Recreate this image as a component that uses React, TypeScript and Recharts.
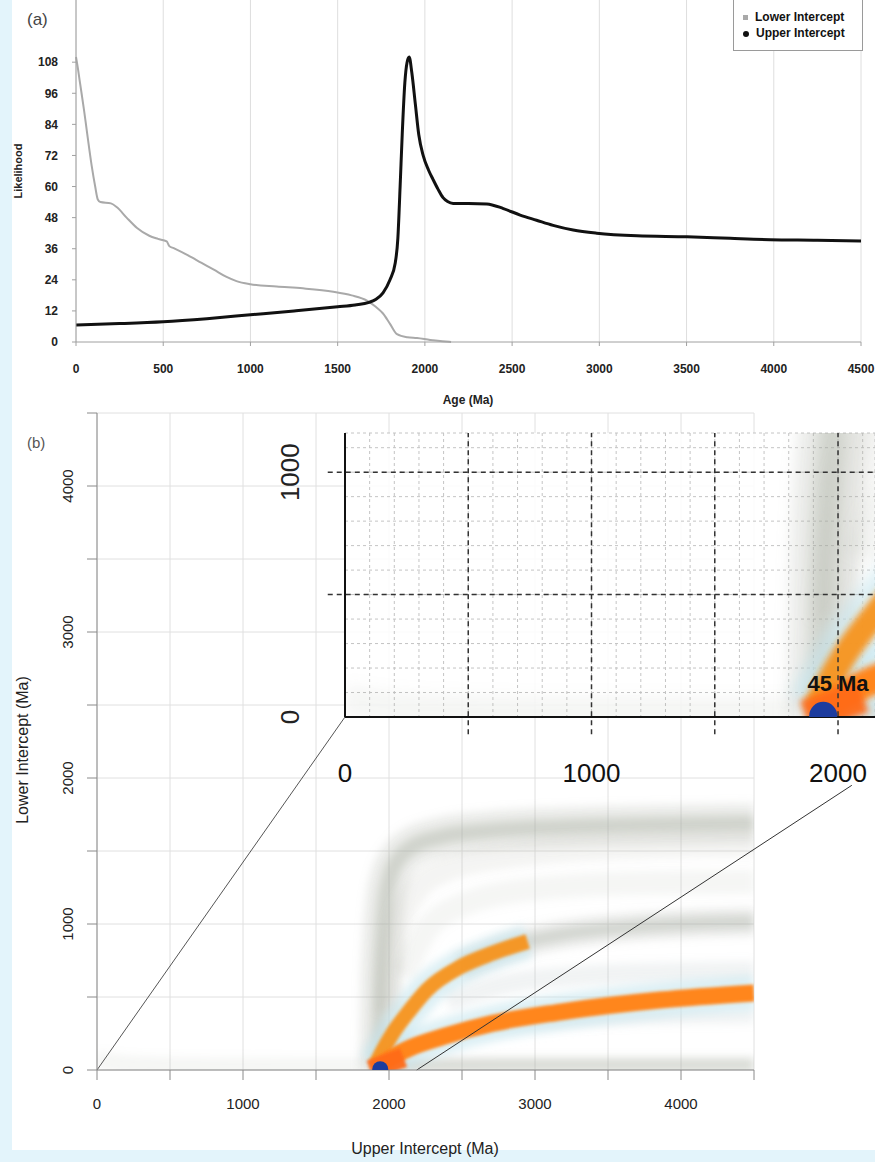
import {
  ComposedChart,
  LineChart,
  Line,
  Scatter,
  XAxis,
  YAxis,
  CartesianGrid,
  ReferenceLine,
  ReferenceDot,
  Legend,
} from 'recharts';

const FONT = '"Liberation Sans", Arial, Helvetica, sans-serif';

// ---------- (a) likelihood vs age ----------
const ageTicks = [0, 500, 1000, 1500, 2000, 2500, 3000, 3500, 4000, 4500];
const likelihoodTicks = [0, 12, 24, 36, 48, 60, 72, 84, 96, 108];

const lowerAges = [
  0, 10, 23, 45, 63, 90, 110, 125, 140, 200, 235, 290, 350, 420, 470, 520, 535, 560, 640, 720,
  790, 860, 920, 1000, 1150, 1300, 1475, 1580, 1668, 1720, 1760, 1800, 1840, 1900, 1955, 2030, 2100, 2150,
];
const lowerLikelihood = [
  110, 106, 100, 90, 81, 68, 60, 55, 54, 53.5, 52, 48, 44, 41, 39.8, 38.8, 37, 36.2, 33.5, 30.5,
  27.9, 25.2, 23.5, 22.3, 21.4, 20.7, 19.4, 18, 16, 13.5, 11, 7, 3, 1.8, 1.5, 0.8, 0.3, 0,
];

const upperAges = [
  0, 250, 500, 750, 1000, 1250, 1500, 1600, 1680, 1720, 1760, 1800, 1830, 1845, 1858, 1870, 1885, 1898, 1910, 1925,
  1945, 1965, 1990, 2020, 2047, 2075, 2104, 2130, 2162, 2250, 2355, 2450, 2546, 2640, 2735, 2850, 2985, 3216, 3503, 3750,
  3979, 4250, 4500,
];
const upperLikelihood = [
  6.6, 7.1, 7.8, 9, 10.5, 12, 13.6, 14.3, 15.3, 16.5, 19, 24, 30.5, 40, 60, 80, 100, 108, 110, 104,
  92, 80, 72, 66.5, 62.7, 59, 55.7, 54.2, 53.5, 53.5, 53.3, 51.5, 49, 47, 45, 43.2, 42, 41, 40.6, 40,
  39.5, 39.3, 39,
];

const legendItems = [
  { name: 'Lower Intercept', color: '#a9a9a9', round: false },
  { name: 'Upper Intercept', color: '#111111', round: true },
];

// ---------- (b) lower intercept vs upper intercept density ridges ----------
const interceptTicks = [0, 500, 1000, 1500, 2000, 2500, 3000, 3500, 4000, 4500];
const insetXTicks = [0, 100, 200, 300, 400, 500, 600, 700, 800, 900, 1000, 1100, 1200, 1300, 1400, 1500, 1600, 1700, 1800, 1900, 2000, 2100];
const insetYTicks = [0, 100, 200, 300, 400, 500, 600, 700, 800, 900, 1000, 1100];
const insetMajor = [500, 1000, 1500, 2000];
const insetMajorY = [500, 1000];

const floorBand = [[0, 70], [150, 45], [400, 30], [900, 22], [1500, 20], [1850, 20]];
const baseBand = [[1880, 25], [2300, 32], [3000, 35], [4500, 35]];
const topBand = [
  [1930, 0], [1935, 250], [1942, 600], [1955, 900], [1975, 1150], [2010, 1330], [2070, 1450],
  [2160, 1530], [2350, 1595], [2700, 1640], [3200, 1665], [3800, 1680], [4500, 1690],
];
const upperFaintBand = [[1980, 400], [2040, 900], [2160, 1200], [2400, 1380], [2900, 1480], [3600, 1530], [4500, 1550]];
const midFaintBand = [[2100, 650], [2250, 950], [2500, 1130], [3000, 1240], [3700, 1280], [4500, 1290]];
const midBand = [[2486, 705], [2712, 801], [2950, 880], [3200, 930], [3600, 975], [4000, 1000], [4500, 1015]];
const lowUpperBand = [[2400, 470], [2800, 590], [3300, 645], [3900, 668], [4500, 676]];
const lowLowerBand = [[2600, 290], [3100, 330], [3700, 355], [4500, 368]];
const upperOrange = [[1910, 40], [1950, 120], [2027, 253], [2144, 411], [2260, 548], [2486, 705], [2712, 801], [2950, 880]];
const lowerOrange = [[1930, 30], [1986, 68], [2144, 151], [2370, 228], [2712, 320], [3171, 397], [3856, 479], [4500, 528]];
const rootOrange = [[1870, 0], [1940, 25], [2020, 55], [2100, 85]];

const bestFit = [{ upper: 1940, lower: 5 }];
const bestFitLabel = '45 Ma';

// zoom connectors in main-plot coordinates
const connectorA = [{ x: 0, y: 0 }, { x: 1700, y: 2420 }];
const connectorB = [{ x: 2190, y: 0 }, { x: 5170, y: 1950 }];

type Layer = { band: number[][]; color: string; width: number; opacity: number; soft: 'grey' | 'orange' };
const bandLayers: Layer[] = [
  { band: floorBand, color: '#9ea397', width: 18, opacity: 0.1, soft: 'grey' },
  { band: baseBand, color: '#a3a79c', width: 14, opacity: 0.4, soft: 'grey' },
  { band: topBand, color: '#a7ab9f', width: 40, opacity: 0.22, soft: 'grey' },
  { band: topBand, color: '#9fa396', width: 16, opacity: 0.35, soft: 'grey' },
  { band: upperFaintBand, color: '#aeb2a8', width: 26, opacity: 0.14, soft: 'grey' },
  { band: midFaintBand, color: '#aeb2a8', width: 24, opacity: 0.12, soft: 'grey' },
  { band: midBand, color: '#a5a99e', width: 28, opacity: 0.22, soft: 'grey' },
  { band: midBand, color: '#a0a498', width: 12, opacity: 0.32, soft: 'grey' },
  { band: lowUpperBand, color: '#a7b3b8', width: 20, opacity: 0.16, soft: 'grey' },
  { band: lowLowerBand, color: '#a7b3b8', width: 14, opacity: 0.16, soft: 'grey' },
  { band: upperOrange, color: '#c6e6ee', width: 34, opacity: 0.6, soft: 'grey' },
  { band: lowerOrange, color: '#c6e6ee', width: 36, opacity: 0.6, soft: 'grey' },
  { band: upperOrange, color: '#f7941f', width: 15, opacity: 0.95, soft: 'orange' },
  { band: lowerOrange, color: '#ff861a', width: 17, opacity: 1, soft: 'orange' },
  { band: rootOrange, color: '#ff6a14', width: 20, opacity: 0.95, soft: 'orange' },
];

const toPoints = (pairs: number[][]) => pairs.map(([upper, lower]) => ({ upper, lower }));

function bandLines(k: number, prefix: string) {
  return bandLayers.map((l, i) => (
    <Line
      key={`${prefix}-${i}`}
      data={toPoints(l.band)}
      dataKey="lower"
      type="monotone"
      stroke={l.color}
      strokeWidth={l.width * k}
      strokeOpacity={l.opacity}
      filter={`url(#${prefix}-${l.soft})`}
      dot={false}
      activeDot={false}
      legendType="none"
      isAnimationActive={false}
    />
  ));
}

const blurFilters = [
  { id: 'main-grey', std: 4 },
  { id: 'main-orange', std: 1.8 },
  { id: 'inset-grey', std: 7 },
  { id: 'inset-orange', std: 3 },
];

const rotatedTick = (fontSize: number, show: (v: number) => boolean) => (props: any) => {
  const { x, y, payload } = props;
  if (!show(payload.value)) return <g />;
  return (
    <text x={x} y={y} transform={`rotate(-90 ${x} ${y})`} textAnchor="middle" fontSize={fontSize} fill="#222" fontFamily={FONT}>
      {payload.value}
    </text>
  );
};

const title = (text: string, x: number, y: number, size: number, weight: string | number, angle = 0) => () => (
  <text
    x={x}
    y={y}
    transform={angle ? `rotate(${angle} ${x} ${y})` : undefined}
    textAnchor="middle"
    dominantBaseline="central"
    fontSize={size}
    fontWeight={weight}
    fill="#222"
    fontFamily={FONT}
  >
    {text}
  </text>
);

const InterceptLegend = () => (
  <div
    style={{
      border: '1px solid #9a9a9a',
      background: '#fff',
      padding: '9px 6px 9px 9px',
      fontSize: 12,
      fontWeight: 'bold',
      fontFamily: FONT,
      color: '#111',
      lineHeight: '16px',
      whiteSpace: 'nowrap',
    }}
  >
    {legendItems.map((it) => (
      <div key={it.name}>
        <span
          style={{
            display: 'inline-block',
            width: it.round ? 6 : 5,
            height: it.round ? 6 : 5,
            background: it.color,
            borderRadius: it.round ? '50%' : 0,
            marginRight: 7,
            verticalAlign: 'middle',
          }}
        />
        {it.name}
      </div>
    ))}
  </div>
);

export default function App() {
  const lowerData = lowerAges.map((age, i) => ({ age, value: lowerLikelihood[i] }));
  const upperData = upperAges.map((age, i) => ({ age, value: upperLikelihood[i] }));
  const tickA = { fontSize: 12, fontWeight: 'bold', fill: '#222', fontFamily: FONT };
  const tickB = { fontSize: 15, fill: '#222', fontFamily: FONT };
  const tickInset = { fontSize: 26, fill: '#111', fontFamily: FONT };

  return (
    <div
      style={{
        position: 'absolute',
        left: 0,
        top: 0,
        width: 875,
        height: 1162,
        background: '#e3f4fb',
        overflow: 'hidden',
        fontFamily: FONT,
      }}
    >
      <svg width={0} height={0} style={{ position: 'absolute' }}>
        <defs>
          {blurFilters.map((f) => (
            <filter key={f.id} id={f.id} filterUnits="userSpaceOnUse" x={-200} y={-200} width={1400} height={1400}>
              <feGaussianBlur stdDeviation={f.std} />
            </filter>
          ))}
        </defs>
      </svg>
      <div style={{ position: 'absolute', left: 12, top: 0, width: 863, height: 1150, background: '#fff' }} />

      {/* (a) */}
      <div style={{ position: 'absolute', left: 0, top: 0 }}>
        <LineChart width={875} height={420} margin={{ top: 0, right: 14, bottom: 12, left: 8 }}>
          <CartesianGrid horizontal={false} stroke="#dedede" />
          <XAxis
            type="number"
            dataKey="age"
            domain={[0, 4500]}
            ticks={ageTicks}
            interval={0}
            height={66}
            tickSize={4}
            tickMargin={18}
            stroke="#a0a0a0"
            tick={tickA}
            label={{ content: title('Age (Ma)', 468, 400, 12, 'bold') }}
          />
          <YAxis
            type="number"
            domain={[0, 132]}
            ticks={likelihoodTicks}
            interval={0}
            width={68}
            tickSize={4}
            tickMargin={14}
            stroke="#a0a0a0"
            tick={tickA}
            label={{ content: title('Likelihood', 18, 171, 11, 'bold', -90) }}
          />
          <Legend
            layout="horizontal"
            verticalAlign="middle"
            align="center"
            wrapperStyle={{ top: -1, left: 733, width: 130 }}
            content={() => <InterceptLegend />}
          />
          <Line data={lowerData} dataKey="value" type="monotone" stroke="#a9a9a9" strokeWidth={2} dot={false} isAnimationActive={false} name="Lower Intercept" />
          <Line data={upperData} dataKey="value" type="monotone" stroke="#111" strokeWidth={3} dot={false} isAnimationActive={false} name="Upper Intercept" />
        </LineChart>
      </div>
      <div style={{ position: 'absolute', left: 27, top: 10, fontSize: 17, color: '#444' }}>(a)</div>

      {/* (b) main */}
      <div style={{ position: 'absolute', left: 0, top: 400 }}>
        <ComposedChart width={875} height={762} margin={{ top: 13, right: 121, bottom: 0, left: 0 }}>
          <CartesianGrid stroke="#e0e0e0" />
          <XAxis
            type="number"
            dataKey="upper"
            domain={[0, 4500]}
            allowDataOverflow
            ticks={interceptTicks}
            interval={0}
            height={92}
            tickSize={10}
            tickMargin={18}
            stroke="#8a8a8a"
            tick={tickB}
            tickFormatter={(v: number) => (v % 1000 === 0 && v < 4500 ? String(v) : '')}
            label={{ content: title('Upper Intercept (Ma)', 425, 748, 16, 'normal') }}
          />
          <YAxis
            type="number"
            dataKey="lower"
            domain={[0, 4500]}
            allowDataOverflow
            ticks={interceptTicks}
            interval={0}
            width={97}
            tickSize={10}
            tickMargin={14}
            stroke="#8a8a8a"
            tick={rotatedTick(15, (v) => v % 1000 === 0 && v < 4500)}
            label={{ content: title('Lower Intercept (Ma)', 22, 350, 16, 'normal', -90) }}
          />
          {bandLines(1, 'main')}
          <Scatter
            data={bestFit}
            dataKey="lower"
            isAnimationActive={false}
            shape={(p: any) => <circle cx={p.cx} cy={p.cy} r={8} fill="#1d3c9e" />}
          />
          <ReferenceLine segment={connectorA} stroke="#555" strokeWidth={1} ifOverflow="visible" />
          <ReferenceLine segment={connectorB} stroke="#333" strokeWidth={1} ifOverflow="visible" />
        </ComposedChart>
      </div>
      <div style={{ position: 'absolute', left: 27, top: 434, fontSize: 15, color: '#555' }}>(b)</div>

      {/* (b) inset */}
      <div style={{ position: 'absolute', left: 250, top: 410 }}>
        <ComposedChart width={625} height={400} margin={{ top: 23, right: 0, bottom: 0, left: 0 }}>
          <CartesianGrid stroke="#c4c4c4" strokeDasharray="3 3" fill="#ffffff" fillOpacity={0.85} />
          <XAxis
            type="number"
            dataKey="upper"
            domain={[0, 2150]}
            allowDataOverflow
            ticks={insetXTicks}
            interval={0}
            height={93}
            tickSize={0}
            tickLine={false}
            tickMargin={47}
            axisLine={{ stroke: '#111', strokeWidth: 2 }}
            tick={tickInset}
            tickFormatter={(v: number) => (v % 1000 === 0 ? String(v) : '')}
          />
          <YAxis
            type="number"
            dataKey="lower"
            domain={[0, 1160]}
            allowDataOverflow
            ticks={insetYTicks}
            interval={0}
            width={95}
            tickSize={0}
            tickLine={false}
            tickMargin={46}
            axisLine={{ stroke: '#111', strokeWidth: 2 }}
            tick={rotatedTick(26, (v) => v % 1000 === 0)}
          />
          {bandLines(1.7, 'inset')}
          <Scatter
            data={bestFit}
            dataKey="lower"
            isAnimationActive={false}
            shape={(p: any) => <circle cx={p.cx} cy={p.cy} r={14} fill="#1d3c9e" />}
          />
          {insetMajor.map((v) => (
            <ReferenceLine
              key={`mx-${v}`}
              segment={[{ x: v, y: -70 }, { x: v, y: 1160 }]}
              stroke="#333"
              strokeWidth={1.5}
              strokeDasharray="5 4"
              ifOverflow="visible"
            />
          ))}
          {insetMajorY.map((v) => (
            <ReferenceLine
              key={`my-${v}`}
              segment={[{ x: -70, y: v }, { x: 2150, y: v }]}
              stroke="#333"
              strokeWidth={1.5}
              strokeDasharray="5 4"
              ifOverflow="visible"
            />
          ))}
          <ReferenceDot
            x={2000}
            y={140}
            r={0}
            fill="none"
            stroke="none"
            label={{ value: bestFitLabel, position: 'center', fontSize: 22, fontWeight: 'bold', fill: '#111', fontFamily: FONT }}
          />
        </ComposedChart>
      </div>
    </div>
  );
}
